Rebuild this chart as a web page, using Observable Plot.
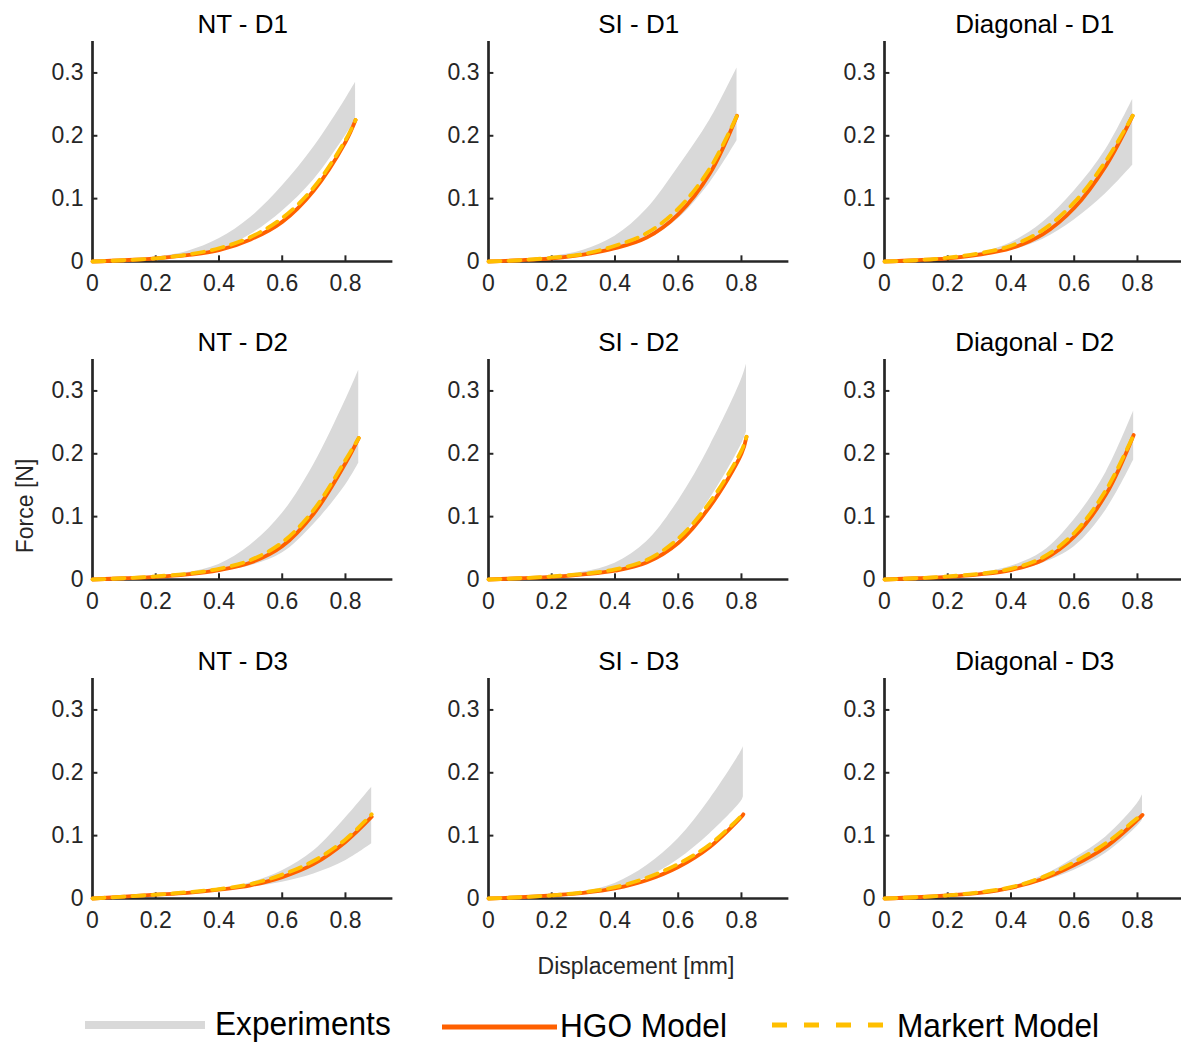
<!DOCTYPE html>
<html><head><meta charset="utf-8">
<script src="https://cdn.jsdelivr.net/npm/d3@7"></script>
<script src="https://cdn.jsdelivr.net/npm/@observablehq/plot@0.6"></script>
<style>
body{margin:0;background:#fff;}
#wrap{position:relative;width:1181px;height:1045px;overflow:hidden;background:#fff;font-family:"Liberation Sans",Arial,Helvetica,sans-serif;}
.panel{position:absolute;}
.panel svg{max-width:none !important;}
.lab{position:absolute;color:#262626;font-size:23px;white-space:nowrap;line-height:1;}
</style></head><body><div id="wrap"></div>
<script>
// ---- tick labels ----
const xTicks = [0, 0.2, 0.4, 0.6, 0.8];
const yTicks = [0, 0.1, 0.2, 0.3];

// ---- panel titles (row-major) ----
const titles = ["NT - D1", "SI - D1", "Diagonal - D1",
                "NT - D2", "SI - D2", "Diagonal - D2",
                "NT - D3", "SI - D3", "Diagonal - D3"];

// ---- NT - D1 ----
const xNT1   = [0, 0.1, 0.2, 0.3, 0.4, 0.5, 0.6, 0.7, 0.8, 0.832];
const hgoNT1 = [0, 0.002, 0.005, 0.010, 0.018, 0.035, 0.063, 0.113, 0.190, 0.225];
const mkNT1  = [0, 0.002, 0.005, 0.011, 0.021, 0.039, 0.069, 0.118, 0.193, 0.225];
const loNT1  = [0, 0.002, 0.005, 0.010, 0.019, 0.043, 0.080, 0.130, 0.200, 0.225];
const hiNT1  = [0, 0.003, 0.007, 0.016, 0.036, 0.070, 0.120, 0.182, 0.258, 0.285];
// ---- SI - D1 ----
const xSI1   = [0, 0.1, 0.2, 0.3, 0.4, 0.5, 0.6, 0.7, 0.786];
const hgoSI1 = [0, 0.002, 0.005, 0.011, 0.021, 0.038, 0.075, 0.140, 0.232];
const mkSI1  = [0, 0.002, 0.006, 0.012, 0.025, 0.045, 0.084, 0.148, 0.232];
const loSI1  = [0, 0.002, 0.005, 0.010, 0.019, 0.034, 0.068, 0.125, 0.192];
const hiSI1  = [0, 0.003, 0.008, 0.018, 0.040, 0.083, 0.150, 0.225, 0.308];
// ---- Diagonal - D1 ----
const xDG1   = [0, 0.1, 0.2, 0.3, 0.4, 0.5, 0.6, 0.7, 0.785];
const hgoDG1 = [0, 0.002, 0.005, 0.011, 0.021, 0.043, 0.085, 0.152, 0.232];
const mkDG1  = [0, 0.002, 0.006, 0.013, 0.025, 0.050, 0.094, 0.160, 0.232];
const loDG1  = [0, 0.002, 0.005, 0.010, 0.018, 0.035, 0.066, 0.108, 0.153];
const hiDG1  = [0, 0.003, 0.007, 0.014, 0.030, 0.062, 0.112, 0.178, 0.258];
// ---- NT - D2 ----
const xNT2   = [0, 0.1, 0.2, 0.3, 0.4, 0.5, 0.6, 0.7, 0.8, 0.842];
const hgoNT2 = [0, 0.002, 0.004, 0.008, 0.015, 0.027, 0.053, 0.105, 0.185, 0.225];
const mkNT2  = [0, 0.002, 0.005, 0.009, 0.017, 0.031, 0.059, 0.111, 0.190, 0.225];
const loNT2  = [0, 0.002, 0.004, 0.007, 0.013, 0.022, 0.042, 0.088, 0.150, 0.185];
const hiNT2  = [0, 0.003, 0.006, 0.011, 0.024, 0.055, 0.105, 0.183, 0.285, 0.333];
// ---- SI - D2 ----
const xSI2   = [0, 0.1, 0.2, 0.3, 0.4, 0.5, 0.6, 0.7, 0.8, 0.816];
const hgoSI2 = [0, 0.002, 0.004, 0.008, 0.014, 0.027, 0.058, 0.116, 0.200, 0.227];
const mkSI2  = [0, 0.002, 0.005, 0.009, 0.016, 0.031, 0.065, 0.123, 0.205, 0.227];
const loSI2  = [0, 0.002, 0.004, 0.008, 0.014, 0.028, 0.062, 0.128, 0.215, 0.235];
const hiSI2  = [0, 0.003, 0.006, 0.012, 0.026, 0.060, 0.125, 0.212, 0.318, 0.343];
// ---- Diagonal - D2 ----
const xDG2   = [0, 0.1, 0.2, 0.3, 0.4, 0.5, 0.6, 0.7, 0.788];
const hgoDG2 = [0, 0.002, 0.004, 0.008, 0.015, 0.031, 0.068, 0.135, 0.230];
const mkDG2  = [0, 0.002, 0.005, 0.009, 0.017, 0.035, 0.074, 0.142, 0.230];
const loDG2  = [0, 0.002, 0.004, 0.007, 0.013, 0.026, 0.052, 0.110, 0.190];
const hiDG2  = [0, 0.003, 0.005, 0.010, 0.021, 0.044, 0.095, 0.170, 0.268];
// ---- NT - D3 ----
const xNT3   = [0, 0.1, 0.2, 0.3, 0.4, 0.5, 0.6, 0.7, 0.8, 0.883];
const hgoNT3 = [0, 0.003, 0.006, 0.009, 0.014, 0.021, 0.034, 0.055, 0.090, 0.130];
const mkNT3  = [0, 0.003, 0.006, 0.010, 0.015, 0.023, 0.038, 0.060, 0.094, 0.134];
const loNT3  = [0, 0.003, 0.005, 0.008, 0.012, 0.018, 0.026, 0.039, 0.060, 0.087];
const hiNT3  = [0, 0.003, 0.006, 0.010, 0.015, 0.025, 0.044, 0.076, 0.128, 0.177];
// ---- SI - D3 ----
const xSI3   = [0, 0.1, 0.2, 0.3, 0.4, 0.5, 0.6, 0.7, 0.8, 0.806];
const hgoSI3 = [0, 0.002, 0.005, 0.009, 0.016, 0.029, 0.050, 0.082, 0.130, 0.134];
const mkSI3  = [0, 0.002, 0.005, 0.010, 0.018, 0.033, 0.055, 0.086, 0.132, 0.136];
const loSI3  = [0, 0.002, 0.005, 0.009, 0.017, 0.033, 0.062, 0.103, 0.155, 0.162];
const hiSI3  = [0, 0.003, 0.006, 0.011, 0.024, 0.052, 0.095, 0.158, 0.235, 0.242];
// ---- Diagonal - D3 ----
const xDG3   = [0, 0.1, 0.2, 0.3, 0.4, 0.5, 0.6, 0.7, 0.8, 0.816];
const hgoDG3 = [0, 0.002, 0.005, 0.009, 0.017, 0.031, 0.053, 0.082, 0.125, 0.133];
const mkDG3  = [0, 0.002, 0.005, 0.010, 0.018, 0.034, 0.058, 0.088, 0.128, 0.134];
const loDG3  = [0, 0.002, 0.005, 0.009, 0.015, 0.027, 0.045, 0.072, 0.115, 0.125];
const hiDG3  = [0, 0.002, 0.005, 0.010, 0.019, 0.036, 0.064, 0.098, 0.151, 0.165];

// ---- legend labels ----
const legendLabels = ["Experiments", "HGO Model", "Markert Model"];

const panels = [
  [xNT1, hgoNT1, mkNT1, loNT1, hiNT1], [xSI1, hgoSI1, mkSI1, loSI1, hiSI1], [xDG1, hgoDG1, mkDG1, loDG1, hiDG1],
  [xNT2, hgoNT2, mkNT2, loNT2, hiNT2], [xSI2, hgoSI2, mkSI2, loSI2, hiSI2], [xDG2, hgoDG2, mkDG2, loDG2, hiDG2],
  [xNT3, hgoNT3, mkNT3, loNT3, hiNT3], [xSI3, hgoSI3, mkSI3, loSI3, hiSI3], [xDG3, hgoDG3, mkDG3, loDG3, hiDG3]
];

const AX = "#262626";
const C_EXP = "#d9d9d9", C_HGO = "#ff6000", C_MK = "#ffbf00";
const FONT = "'Liberation Sans', Arial, Helvetica, sans-serif";
const ML = 70, MR = 10, MT = 40, MB = 40;
const FW = 300.4, FH = 220;
const wrap = document.getElementById("wrap");
const fmt = d => (d === 0 ? "0" : String(d));
const CURVE = "catmull-rom";

panels.forEach((p, i) => {
  const [xs, hgo, mk, lo, hi] = p;
  const r = Math.floor(i / 3), c = i % 3;
  const data = xs.map((x, k) => ({x, hgo: hgo[k], mk: mk[k], lo: lo[k], hi: hi[k]}));
  const W = ML + FW + MR, H = MT + FH + MB;
  const chart = Plot.plot({
    width: W, height: H,
    marginLeft: ML, marginRight: MR, marginTop: MT, marginBottom: MB,
    x: {domain: [0, 0.95], axis: null, label: null},
    y: {domain: [0, 0.35], axis: null, label: null},
    style: {fontFamily: FONT, color: AX, background: "transparent", overflow: "visible", maxWidth: "none"},
    marks: [
      Plot.areaY(data, {x: "x", y1: "lo", y2: "hi", fill: C_EXP, curve: CURVE}),
      Plot.ruleX(xTicks.slice(1), {x: d => d, y1: 0, y2: 0.009, stroke: AX, strokeWidth: 2}),
      Plot.ruleY(yTicks.slice(1), {y: d => d, x1: 0, x2: 0.017, stroke: AX, strokeWidth: 2}),
      Plot.ruleX([0], {stroke: AX, strokeWidth: 2.7}),
      Plot.ruleY([0], {stroke: AX, strokeWidth: 2.7}),
      Plot.axisX(xTicks, {tickSize: 0, tickPadding: 13, tickFormat: fmt, fontSize: 23, label: null}),
      Plot.axisY(yTicks, {tickSize: 0, tickPadding: 9, tickFormat: fmt, fontSize: 23, label: null}),
      Plot.line(data, {x: "x", y: "hgo", stroke: C_HGO, strokeWidth: 3.8, curve: CURVE}),
      Plot.line(data, {x: "x", y: "mk", stroke: C_MK, strokeWidth: 3.8, strokeDasharray: "12,8", curve: CURVE}),
      Plot.text([titles[i]], {text: d => d, frameAnchor: "top", dy: -17, lineAnchor: "middle", fontSize: 26, fill: "#000"})
    ]
  });
  const div = document.createElement("div");
  div.className = "panel";
  div.style.left = (22 + 396 * c) + "px";
  div.style.top = (0.5 + 318.75 * r) + "px";
  div.style.width = W + "px";
  div.style.height = H + "px";
  div.appendChild(chart);
  wrap.appendChild(div);
});

// axis titles
const yl = document.createElement("div");
yl.className = "lab";
yl.textContent = "Force [N]";
yl.style.left = "25px"; yl.style.top = "506px";
yl.style.transform = "translate(-50%,-50%) rotate(-90deg)";
wrap.appendChild(yl);
const xl = document.createElement("div");
xl.className = "lab";
xl.textContent = "Displacement [mm]";
xl.style.left = "636px"; xl.style.top = "966px";
xl.style.transform = "translate(-50%,-50%)";
wrap.appendChild(xl);

// legend
const ns = "http://www.w3.org/2000/svg";
const lg = document.createElementNS(ns, "svg");
lg.setAttribute("width", 1181); lg.setAttribute("height", 65);
lg.style.position = "absolute"; lg.style.left = "0px"; lg.style.top = "980px";
function el(tag, attrs) { const e = document.createElementNS(ns, tag); for (const k in attrs) e.setAttribute(k, attrs[k]); lg.appendChild(e); return e; }
el("line", {x1: 85, x2: 205, y1: 45, y2: 45, stroke: C_EXP, "stroke-width": 8});
el("line", {x1: 442, x2: 557, y1: 47, y2: 47, stroke: C_HGO, "stroke-width": 5});
el("line", {x1: 772, x2: 886, y1: 45, y2: 45, stroke: C_MK, "stroke-width": 5, "stroke-dasharray": "15,17"});
const lx = [215, 560, 897], lb = [55, 57, 57];
legendLabels.forEach((t, k) => {
  const tx = el("text", {x: 0, y: 0, "font-size": 34, "font-family": FONT, fill: "#000",
    transform: `translate(${lx[k]},${lb[k]}) scale(0.93,1)`});
  tx.textContent = t;
});
wrap.appendChild(lg);
</script></body></html>
